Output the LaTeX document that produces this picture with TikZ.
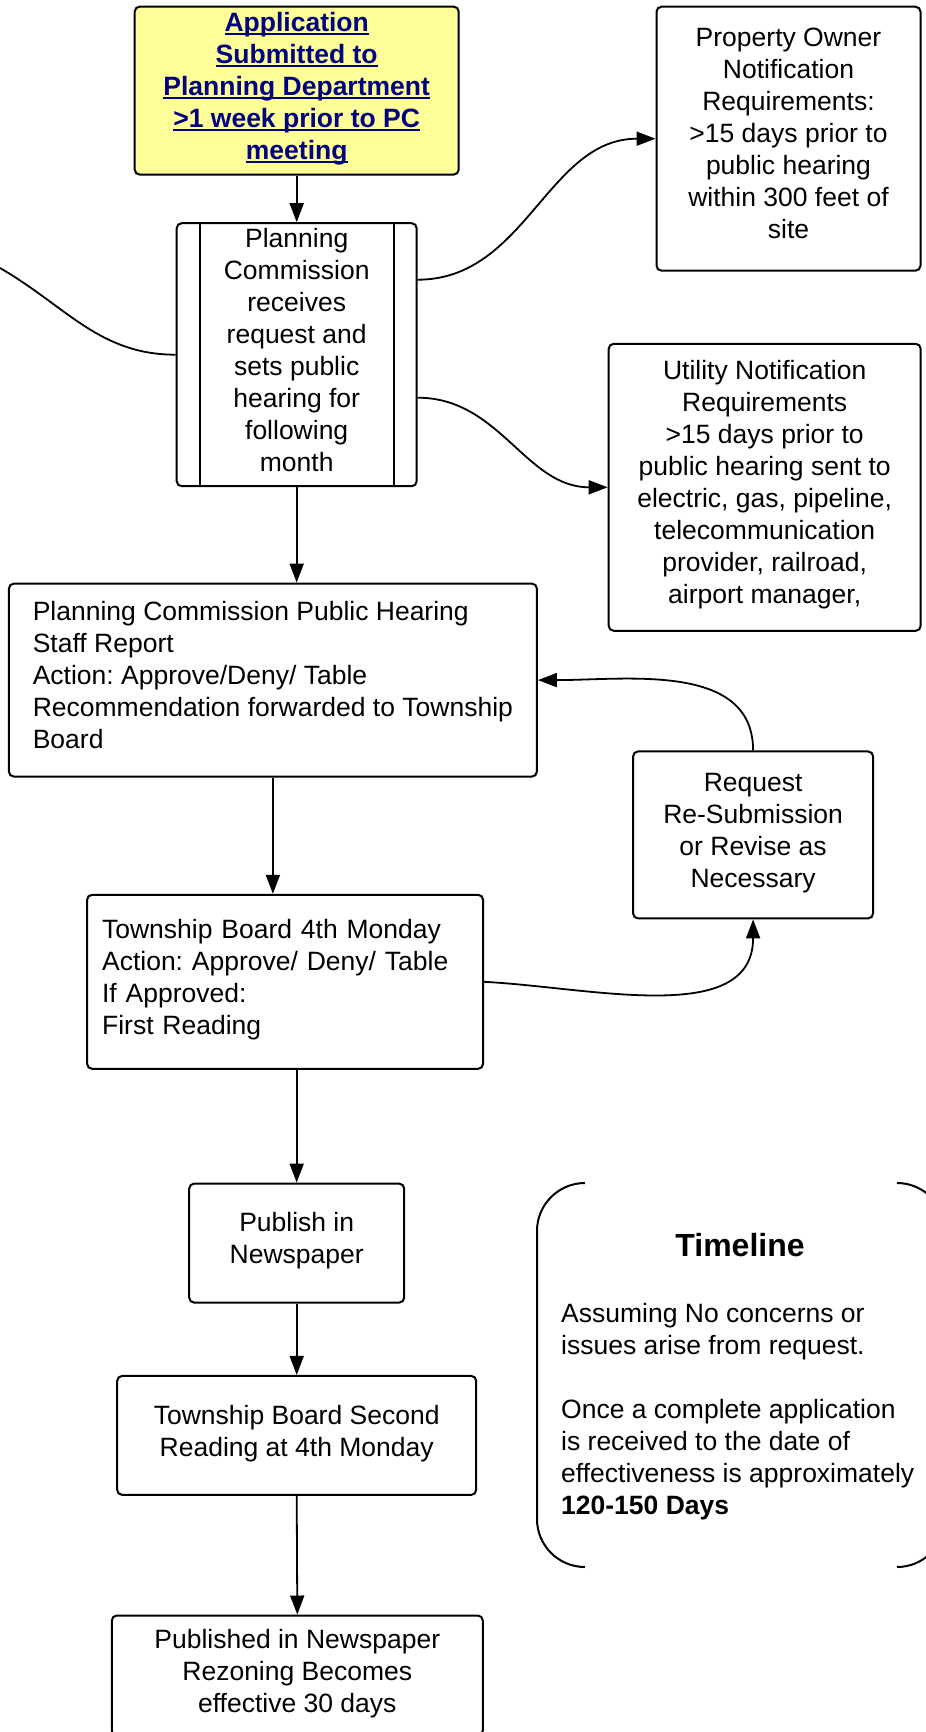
\documentclass[tikz,border=0pt]{standalone}
\usepackage{fontspec}
\setmainfont{Liberation Sans}
\usepackage{tikz}
\usetikzlibrary{arrows.meta}
\usepackage{xcolor}
\definecolor{appyellow}{RGB}{255,255,153}
\definecolor{appblue}{RGB}{0,0,128}
\newsavebox{\ulbox}
\newcommand{\ulapp}[1]{\sbox{\ulbox}{#1}\rlap{\rule[-4pt]{\wd\ulbox}{2pt}}\usebox{\ulbox}}
\newcommand{\fsize}{\fontsize{26.5pt}{32pt}\selectfont}
\frenchspacing

\tikzset{
  box/.style={draw, line width=2pt, rounded corners=5pt, fill=white, align=center, inner sep=0pt,
    execute at end node={\rule[-10pt]{0pt}{1pt}}},
  conn/.style={line width=1.8pt, -{Triangle[length=19pt,width=14pt]}},
}

\begin{document}
\begin{tikzpicture}[x=1pt, y=-1pt, font=\fsize]
    % Frame
    \useasboundingbox (0,0) rectangle (926,1732);
    \clip (0,0) rectangle (926,1732);
    % Main column
    \node[box, fill=appyellow, text=appblue, font=\fsize\bfseries, execute at end node={}, minimum width=324, minimum height=168] (app) at (296.7,90.6)
        {\ulapp{Application}\\ \ulapp{Submitted to}\\ \ulapp{Planning Department}\\ \ulapp{>1 week prior to PC}\\ \ulapp{meeting}};
    \node[box, minimum width=240, minimum height=263] (pc) at (296.7,354.7)
        {Planning\\ Commission\\ receives\\ request and\\ sets public\\ hearing for\\ following\\ month};
    \draw[line width=2pt] ([xshift=24pt]pc.north west) -- ([xshift=24pt]pc.south west);
    \draw[line width=2pt] ([xshift=-24pt]pc.north east) -- ([xshift=-24pt]pc.south east);
    \node[box, align=left, minimum width=528, minimum height=193] (hearing) at (272.9,680.1)
        {Planning Commission Public Hearing\\ Staff Report\\ Action: Approve/Deny/ Table\\ Recommendation forwarded to Township\\ Board};
    \node[box, align=left, text width=366pt, inner xsep=15pt, minimum height=174] (tb) at (285.1,981.8)
        {Township Board 4th Monday\\ Action: Approve/ Deny/ Table\\ If Approved:\\ First Reading};
    \node[box, minimum width=215, minimum height=119] (publish) at (296.7,1243.1) {Publish in\\ Newspaper};
    \node[box, minimum width=359, minimum height=119] (second) at (296.7,1435.4) {Township Board Second\\ Reading at 4th Monday};
    \node[box, minimum width=371, minimum height=120] (published) at (297.3,1675.5)
        {Published in Newspaper\\ Rezoning Becomes\\ effective 30 days};
    % Side boxes
    \node[box, minimum width=264, minimum height=264] (owner) at (788.5,138.7)
        {Property Owner\\ Notification\\ Requirements:\\ >15 days prior to\\ public hearing\\ within 300 feet of\\ site};
    \node[box, minimum width=312, minimum height=287] (utility) at (764.7,487.3)
        {Utility Notification\\ Requirements\\ >15 days prior to\\ public hearing sent to\\ electric, gas, pipeline,\\ telecommunication\\ provider, railroad,\\ airport manager,};
    \node[box, minimum width=240, minimum height=167] (request) at (753.1,834.9)
        {Request\\ Re-Submission\\ or Revise as\\ Necessary};
    % Timeline
    \draw[line width=2pt, rounded corners=48pt] (585,1183) -- (537,1183) -- (537,1567) -- (585,1567);
    \draw[line width=2pt, rounded corners=48pt] (897,1183) -- (945,1183) -- (945,1567) -- (897,1567);
    \node[font=\fontsize{32pt}{38pt}\selectfont\bfseries] (tltitle) at (740,1245) {Timeline};
    \node[anchor=north west, align=left, inner sep=0pt] (tlbody) at (561,1303)
        {Assuming No concerns or\\ issues arise from request.\\[32pt] Once a complete application\\ is received to the date of\\ effectiveness is approximately\\ \textbf{120-150 Days}};
    % Connectors
    \draw[conn] (app.south) -- (pc.north);
    \draw[conn] ([yshift=75pt]pc.east) to[out=0,in=180] (owner.west);
    \draw[conn] ([yshift=-43pt]pc.east) to[out=0,in=180] (utility.west);
    \draw[conn] (pc.south) -- (pc.south |- hearing.north);
    \draw[conn] (hearing.south) -- (hearing.south |- tb.north);
    \draw[conn] (tb.east) to[out=-3,in=-90] (request.south);
    \draw[conn] (request.north) to[out=90,in=0] (hearing.east);
    \draw[conn] (publish.north |- tb.south) -- (publish.north);
    \draw[conn] (publish.south) -- (second.north);
    \draw[conn] (second.south) -- (published.north);
    % Incoming line
    \coordinate (offleft) at (0,268);
    \draw[line width=1.8pt] (offleft) to[out=-30,in=180] (pc.west);
\end{tikzpicture}
\end{document}
